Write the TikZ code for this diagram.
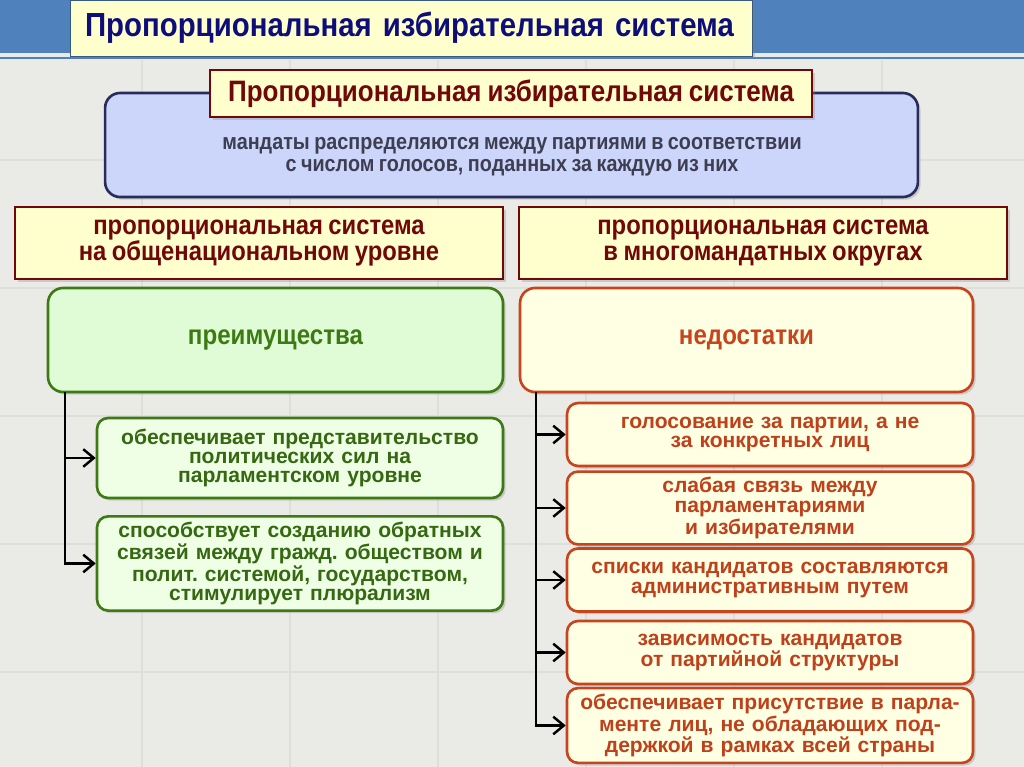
\documentclass[tikz,border=0pt]{standalone}
\usepackage{fontspec}
\setmainfont{Liberation Sans}
\newfontfamily\narrowfont{Liberation Sans}[FakeStretch=0.88]
\newcommand\narrowbold{\narrowfont\bfseries\spaceskip=0.2em plus 0.05em\relax}
\usetikzlibrary{arrows.meta, shadows, positioning}
\definecolor{bgpaper}{RGB}{234,234,231}
\definecolor{tileline}{RGB}{222,222,218}
\definecolor{bandblue}{RGB}{79,129,189}
\definecolor{titlenavy}{RGB}{14,14,122}
\definecolor{tabyellow}{RGB}{255,255,206}
\definecolor{hdrred}{RGB}{112,8,10}
\definecolor{defblue}{RGB}{204,214,250}
\definecolor{defborder}{RGB}{40,44,92}
\definecolor{deftext}{RGB}{62,62,82}
\definecolor{advgreen}{RGB}{62,122,20}
\definecolor{advfill}{RGB}{224,252,214}
\definecolor{itemfill}{RGB}{238,255,230}
\definecolor{disred}{RGB}{200,68,28}
\definecolor{disfill}{RGB}{255,255,228}
\tikzstyle{softshadow} = [drop shadow={shadow xshift=1.5pt, shadow yshift=-1.5pt, opacity=0.3}]
\tikzstyle{tab} = [draw=bandblue!70!black, fill=tabyellow, softshadow, minimum width=13.64cm,
                   minimum height=1.12cm, text width=13.04cm, inner xsep=0.3cm, align=left,
                   text=titlenavy, font=\fontsize{19}{20}\narrowbold\selectfont]
\tikzstyle{header} = [draw=hdrred, line width=1.6pt, fill=tabyellow, softshadow, text=hdrred,
                      align=center, font=\fontsize{15.4}{15.2}\narrowbold\selectfont]
\tikzstyle{defbox} = [draw=defborder, line width=1.5pt, fill=defblue, rounded corners=0.3cm,
                      softshadow, minimum width=16.26cm, minimum height=2.08cm]
\tikzstyle{deftxt} = [text=deftext, align=center, font=\fontsize{12.8}{12.6}\narrowbold\selectfont]
\tikzstyle{advbox} = [draw=advgreen, line width=1.5pt, fill=advfill, rounded corners=0.3cm,
                      softshadow, minimum width=9.1cm, minimum height=2.08cm, text=advgreen,
                      font=\fontsize{15.6}{15}\narrowbold\selectfont]
\tikzstyle{disbox} = [draw=disred, line width=1.5pt, fill=disfill, rounded corners=0.3cm,
                      softshadow, minimum width=9.06cm, minimum height=2.08cm, text=disred,
                      font=\fontsize{15.6}{15}\narrowbold\selectfont]
\tikzstyle{proitem} = [draw=advgreen, line width=1.5pt, fill=itemfill, rounded corners=0.22cm,
                       softshadow, minimum width=8.12cm, text width=7.8cm, align=center,
                       text=advgreen!85!black, font=\bfseries\fontsize{12}{10.8}\selectfont]
\tikzstyle{conitem} = [draw=disred, line width=1.5pt, fill=disfill, rounded corners=0.22cm,
                       softshadow, minimum width=8.12cm, minimum height=1.26cm, text width=7.8cm,
                       align=center, text=disred!95!black, font=\bfseries\fontsize{12}{11.2}\selectfont]
\tikzstyle{link} = [-{Straight Barb[length=6pt, width=10pt]}, line width=1.4pt, black]
\frenchspacing

\begin{document}
\begin{tikzpicture}[x=0.02cm, y=-0.02cm]
    \useasboundingbox (0,0) rectangle (1024,767);
    \fill[bgpaper] (0,0) rectangle (1024,767);
    % paper tiles
    \foreach \tx in {142,290,438,586,734,882}
        \draw[tileline, line width=0.8pt] (\tx,60) -- (\tx,767);
    \foreach \ty in {160,288,416,544,672}
        \draw[tileline, line width=0.8pt] (0,\ty) -- (1024,\ty);
    % title band
    \fill[bandblue] (0,0) rectangle (1024,53);
    \draw[bandblue, line width=1.2pt] (0,58) -- (1024,58);
    \node[tab] (title) at (411,28) {Пропорциональная избирательная система};
    % definition
    \node[defbox] (defn) at (511.5,145) {};
    \node[deftxt] (defntxt) at (512,157) {мандаты распределяются между партиями в соответствии\\с числом голосов, поданных за каждую из них};
    \node[header, minimum width=12.04cm, minimum height=0.94cm, font=\fontsize{16.8}{16}\narrowbold\selectfont]
        (hdr) at (511,93.5) {Пропорциональная избирательная система};
    % two kinds
    \node[header, minimum width=9.76cm, minimum height=1.44cm] (lhdr) at (259,243)
        {пропорциональная система\\на общенациональном уровне};
    \node[header, minimum width=9.76cm, minimum height=1.44cm] (rhdr) at (763,243)
        {пропорциональная система\\в многомандатных округах};
    \node[advbox] (adv) at (275.5,340) {преимущества};
    \node[disbox] (dis) at (746.5,340) {недостатки};
    % advantages
    \node[proitem, minimum height=1.6cm] (pro1) at (300,458)
        {обеспечивает представительство\\политических сил на\\парламентском уровне};
    \node[proitem, minimum height=1.66cm] (pro2) at (300,563.5)
        {способствует созданию обратных\\связей между гражд. обществом и\\полит. системой, государством,\\стимулирует плюрализм};
    % drawbacks
    \node[conitem] (con1) at (770,434.5) {голосование за партии, а не\\за конкретных лиц};
    \node[conitem] (con2) at (770,508) {слабая связь между\\парламентариями\\и избирателями};
    \node[conitem] (con3) at (770,580) {списки кандидатов составляются\\административным путем};
    \node[conitem] (con4) at (770,652.5) {зависимость кандидатов\\от партийной структуры};
    \node[conitem] (con5) at (770,725.5) {обеспечивает присутствие в парла-\\менте лиц, не обладающих под-\\держкой в рамках всей страны};
    % connectors
    \coordinate (ltrunk) at (65,392);
    \coordinate (rtrunk) at (536,392);
    \draw[link] (ltrunk) |- (pro1.west);
    \draw[link] (ltrunk) |- (pro2.west);
    \draw[link] (rtrunk) |- (con1.west);
    \draw[link] (rtrunk) |- (con2.west);
    \draw[link] (rtrunk) |- (con3.west);
    \draw[link] (rtrunk) |- (con4.west);
    \draw[link] (rtrunk) |- (con5.west);
\end{tikzpicture}
\end{document}
